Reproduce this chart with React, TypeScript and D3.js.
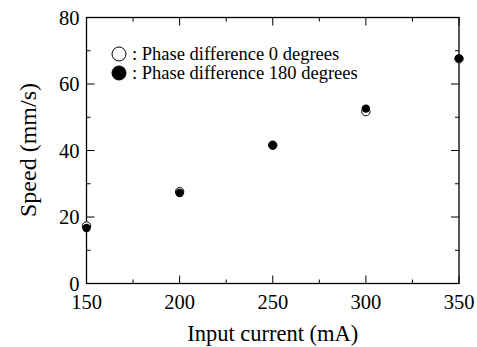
import * as d3 from "d3";
import React, { useEffect, useRef } from "react";

const currents = [150, 200, 250, 300, 350];
const speedPhase0 = [17.3, 27.6, 41.6, 51.7, 67.6];
const speedPhase180 = [16.7, 27.2, 41.6, 52.6, 67.7];
const xTicks = [150, 200, 250, 300, 350];
const yTicks = [0, 20, 40, 60, 80];
const legendLabels = [": Phase difference 0 degrees", ": Phase difference 180 degrees"];

const W = 477;
const H = 347;
const margin = { top: 17.5, right: 18, bottom: 63.5, left: 86.5 };
const font = "'Liberation Serif', 'Times New Roman', Times, serif";

export default function App() {
  const svgRef = useRef<SVGSVGElement | null>(null);

  useEffect(() => {
    const svg = d3.select(svgRef.current);
    svg.selectAll("*").remove();

    const width = W - margin.left - margin.right;
    const height = H - margin.top - margin.bottom;

    const x = d3.scaleLinear().domain([150, 350]).range([0, width]);
    const y = d3.scaleLinear().domain([0, 80]).range([height, 0]);

    const g = svg
      .append("g")
      .attr("transform", `translate(${margin.left},${margin.top})`);

    // inward ticks on all four sides, minor every 25 mA / 10 mm/s
    const xMinor = d3.range(150, 351, 25);
    const yMinor = d3.range(0, 81, 10);
    const tickLen = (major: boolean) => (major ? 8 : 4);

    xMinor.forEach((v) => {
      const major = v % 50 === 0;
      g.append("line")
        .attr("x1", x(v)).attr("x2", x(v))
        .attr("y1", height).attr("y2", height - tickLen(major))
        .attr("stroke", "#000");
      g.append("line")
        .attr("x1", x(v)).attr("x2", x(v))
        .attr("y1", 0).attr("y2", tickLen(major))
        .attr("stroke", "#000");
    });
    yMinor.forEach((v) => {
      const major = v % 20 === 0;
      g.append("line")
        .attr("x1", 0).attr("x2", tickLen(major))
        .attr("y1", y(v)).attr("y2", y(v))
        .attr("stroke", "#000");
      g.append("line")
        .attr("x1", width).attr("x2", width - tickLen(major))
        .attr("y1", y(v)).attr("y2", y(v))
        .attr("stroke", "#000");
    });

    g.append("rect")
      .attr("width", width)
      .attr("height", height)
      .attr("fill", "none")
      .attr("stroke", "#000")
      .attr("stroke-width", 1.3);

    // tick labels
    g.selectAll(".xl")
      .data(xTicks)
      .enter()
      .append("text")
      .attr("x", (d) => x(d))
      .attr("y", height + 25)
      .attr("text-anchor", "middle")
      .attr("font-family", font)
      .attr("font-size", 20.5)
      .text((d) => d);

    g.selectAll(".yl")
      .data(yTicks)
      .enter()
      .append("text")
      .attr("x", -7)
      .attr("y", (d) => y(d) + 7)
      .attr("text-anchor", "end")
      .attr("font-family", font)
      .attr("font-size", 20.5)
      .text((d) => d);

    // axis titles
    svg.append("text")
      .attr("x", margin.left + width / 2)
      .attr("y", 341)
      .attr("text-anchor", "middle")
      .attr("font-family", font)
      .attr("font-size", 22.5)
      .text("Input current (mA)");

    svg.append("text")
      .attr("transform", `translate(36,150) rotate(-90)`)
      .attr("text-anchor", "middle")
      .attr("font-family", font)
      .attr("font-size", 24)
      .text("Speed (mm/s)");

    // data points
    g.selectAll(".p0")
      .data(currents)
      .enter()
      .append("circle")
      .attr("cx", (d) => x(d))
      .attr("cy", (d, i) => y(speedPhase0[i]))
      .attr("r", 4.2)
      .attr("fill", "#fff")
      .attr("stroke", "#000")
      .attr("stroke-width", 1);

    g.selectAll(".p180")
      .data(currents)
      .enter()
      .append("circle")
      .attr("cx", (d) => x(d))
      .attr("cy", (d, i) => y(speedPhase180[i]))
      .attr("r", 4.2)
      .attr("fill", "#000");

    // legend
    const legend = svg.append("g").attr("transform", "translate(119,54)");
    legendLabels.forEach((label, i) => {
      legend.append("circle")
        .attr("cx", 0)
        .attr("cy", i * 19)
        .attr("r", 7)
        .attr("fill", i === 0 ? "#fff" : "#000")
        .attr("stroke", "#000")
        .attr("stroke-width", 1);
      legend.append("text")
        .attr("x", 13)
        .attr("y", i * 19 + 6)
        .attr("font-family", font)
        .attr("font-size", 18.5)
        .text(label);
    });
  }, []);

  return (
    <svg
      ref={svgRef}
      width={W}
      height={H}
      style={{ position: "absolute", left: 0, top: 0, background: "#fff" }}
    />
  );
}
